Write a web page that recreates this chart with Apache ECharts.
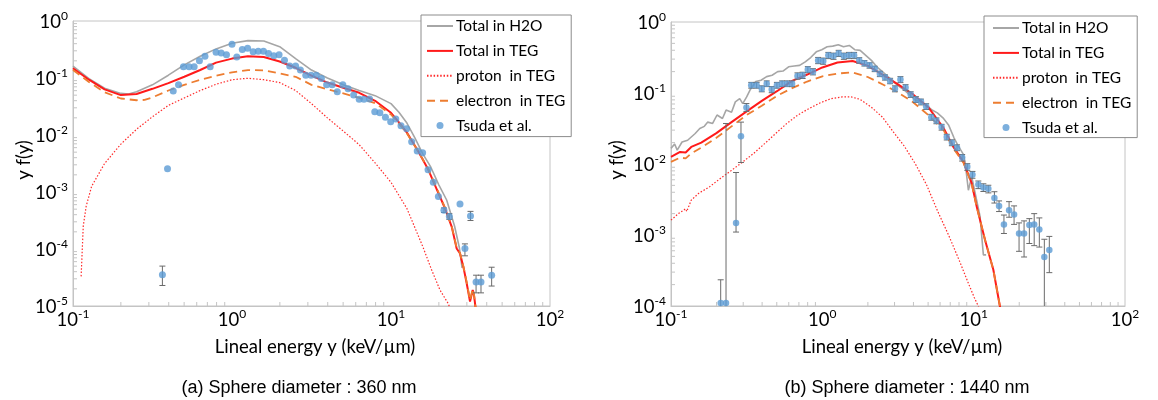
<!DOCTYPE html>
<html>
<head>
<meta charset="utf-8">
<script src="https://cdn.jsdelivr.net/npm/echarts@6/dist/echarts.min.js"></script>
<style>
  html, body { margin: 0; padding: 0; background: #fff; }
  #main { width: 1158px; height: 400px; }
</style>
</head>
<body>
<div id="main"></div>
<script>
// ---- (a) 360 nm ----
const a_h2o_x = [0.1,0.126,0.158,0.2,0.224,0.251,0.316,0.398,0.501,0.631,0.794,1,1.259,1.585,1.995,2.512,3.162,3.981,5.012,6.31,7.943,10,11.22,12.59,14.13,15.85,17.78,19.95,22.39,25.12,26.92,27.99];
const a_h2o_y = [0.162,0.0977,0.0661,0.0537,0.0525,0.0575,0.0759,0.112,0.170,0.240,0.324,0.407,0.452,0.447,0.355,0.219,0.138,0.100,0.0759,0.0603,0.049,0.0355,0.0251,0.0162,0.00891,0.00468,0.00275,0.00135,0.000724,0.000251,0.000105,0.0000468];

const a_teg_x = [0.1,0.126,0.158,0.2,0.251,0.316,0.398,0.501,0.631,0.794,1,1.259,1.585,1.995,2.512,3.162,3.981,5.012,6.31,7.943,10,11.22,12.59,14.86,17.18,19.86,21.88,24.1,25.88,27.16,28.51,29.92,31.41,32.66,33.27,34.28];
const a_teg_y = [0.148,0.0933,0.0631,0.0501,0.0525,0.0646,0.0813,0.105,0.138,0.186,0.219,0.240,0.234,0.195,0.151,0.110,0.0832,0.0676,0.055,0.0398,0.0245,0.0166,0.011,0.00513,0.00245,0.000955,0.000513,0.000245,0.000102,0.0000832,0.000049,0.0000251,0.000012,0.0000191,0.0000155,0.00000794];

const a_pro_x = [0.1125,0.116,0.121,0.131,0.158,0.2,0.251,0.316,0.398,0.501,0.631,0.794,1,1.259,1.585,1.995,2.512,3.162,3.981,5.012,6.31,7.943,10,12.59,15.85,18.03,20.32,22.91,23.99];
const a_pro_y = [0.0000331,0.000251,0.000562,0.00126,0.00316,0.00692,0.0126,0.0209,0.0331,0.0447,0.0603,0.0776,0.0933,0.0989,0.0933,0.0832,0.0603,0.0355,0.02,0.0117,0.00676,0.00324,0.00148,0.000513,0.00011,0.0000427,0.0000191,0.000011,0.00000794];

const a_ele_x = [0.1,0.126,0.158,0.2,0.251,0.282,0.316,0.398,0.501,0.631,0.794,1,1.259,1.585,1.995,2.512,3.162,3.981,5.012,6.31,7.943,10,11.22,12.59,14.86,17.18,19.86,21.88,24.1,25.88,27.16,28.51,29.92,31.41,32.66,33.27,34.28];
const a_ele_y = [0.138,0.0851,0.0562,0.0437,0.0407,0.0412,0.0457,0.0603,0.0759,0.0933,0.110,0.126,0.138,0.136,0.120,0.105,0.0759,0.0631,0.0537,0.0447,0.0363,0.0229,0.0158,0.0107,0.00513,0.00251,0.001,0.000525,0.000251,0.000105,0.0000851,0.0000501,0.0000263,0.0000126,0.00002,0.0000158,0.00000794];

const a_exp_x = [0.365,0.393,0.427,0.461,0.495,0.537,0.578,0.624,0.676,0.729,0.794,0.855,0.923,1.0,1.072,1.161,1.253,1.358,1.462,1.578,1.698,1.832,1.977,2.138,2.307,2.512,2.692,2.911,3.141,3.388,3.648,3.936,4.266,4.592,4.977,5.37,5.821,6.31,6.761,7.328,7.907,8.511,9.226,9.954,10.72,11.56,12.53,13.49,14.62,15.81,17.1,18.45,19.86,21.53,23.28,27.16,29.17,31.62,34.28,36.81,42.95];
const a_exp_y = [0.0000355,0.00257,0.0589,0.0759,0.158,0.158,0.158,0.2,0.24,0.158,0.282,0.275,0.257,0.389,0.234,0.316,0.331,0.288,0.295,0.295,0.269,0.245,0.257,0.204,0.162,0.162,0.138,0.112,0.112,0.112,0.0977,0.0759,0.0759,0.0575,0.0759,0.0646,0.0501,0.0422,0.0422,0.0427,0.0257,0.0245,0.0204,0.017,0.0191,0.0145,0.0129,0.00759,0.00525,0.0049,0.00245,0.00148,0.000832,0.000479,0.000372,0.000617,0.000102,0.00038,0.0000263,0.0000263,0.0000347];

const a_err_x  = [0.365,21.53,23.28,29.17,31.62,34.28,36.81,42.95];
const a_err_lo = [0.0000229,0.000437,0.000331,0.0000759,0.000316,0.000017,0.000017,0.0000224];
const a_err_hi = [0.0000501,0.000525,0.000417,0.000123,0.000457,0.0000347,0.0000347,0.0000479];

// ---- (b) 1440 nm ----
const b_h2o_x = [0.1,0.1057,0.1099,0.1183,0.1288,0.1361,0.1445,0.1549,0.166,0.175,0.1884,0.2014,0.2188,0.2312,0.2512,0.2661,0.2844,0.2979,0.3162,0.3327,0.3631,0.3936,0.4285,0.4656,0.507,0.5495,0.5984,0.6516,0.7079,0.7709,0.8375,0.912,0.9908,1.076,1.172,1.274,1.38,1.507,1.637,1.778,1.936,2.109,2.291,2.495,2.71,2.951,3.206,3.483,3.793,4.121,4.487,4.875,5.309,5.754,6.266,6.823,7.413,7.852,8.531,8.77,9.226,9.705,11.02,11.59,12.08];
const b_h2o_y = [0.0166,0.0191,0.0157,0.0204,0.0216,0.024,0.0269,0.0316,0.0339,0.0389,0.0372,0.049,0.0437,0.0575,0.0537,0.075,0.0832,0.0708,0.0881,0.11,0.145,0.151,0.17,0.178,0.2,0.204,0.234,0.24,0.245,0.275,0.316,0.38,0.407,0.447,0.457,0.479,0.447,0.468,0.407,0.398,0.339,0.288,0.234,0.2,0.17,0.145,0.124,0.11,0.0933,0.0794,0.075,0.0676,0.0575,0.0525,0.0447,0.0355,0.0234,0.0184,0.0138,0.0107,0.00427,0.00661,0.00182,0.000525,0.000525];

const b_teg_x = [0.1,0.1148,0.125,0.1361,0.1585,0.1995,0.2512,0.3162,0.3981,0.5012,0.631,0.794,1,1.259,1.585,1.995,2.512,3.162,3.981,5.012,6.31,7.345,8.551,9.705,10.47,11.89,13.49,14.93,15.49];
const b_teg_y = [0.0126,0.0148,0.0145,0.0174,0.02,0.0272,0.0389,0.055,0.0776,0.106,0.148,0.182,0.229,0.269,0.282,0.243,0.18,0.132,0.0955,0.0631,0.0324,0.0174,0.0107,0.00537,0.00251,0.000851,0.000324,0.0000977,0.0000631];

const b_pro_x = [0.1,0.112,0.125,0.127,0.136,0.152,0.18,0.213,0.251,0.298,0.352,0.417,0.492,0.582,0.689,0.815,0.964,1.14,1.349,1.549,1.778,2.109,2.495,2.951,3.483,4.121,4.875,5.768,6.823,8.072,9.268,10.09,10.72,11.22];
const b_pro_y = [0.00162,0.002,0.00234,0.00214,0.00309,0.00385,0.00479,0.00631,0.00813,0.0107,0.0141,0.0195,0.0269,0.0372,0.049,0.0603,0.0724,0.0832,0.0881,0.0881,0.0813,0.0631,0.0457,0.0282,0.0178,0.01,0.00513,0.00219,0.001,0.000427,0.000204,0.000132,0.0001,0.0000794];

const b_ele_x = [0.1,0.1148,0.125,0.1361,0.1585,0.1995,0.2512,0.3162,0.3981,0.5012,0.631,0.794,1,1.259,1.585,1.995,2.512,3.162,3.981,5.012,6.31,7.345,8.551,9.705,10.47,11.89,13.49,14.93,15.49];
const b_ele_y = [0.0107,0.0123,0.012,0.0141,0.017,0.0234,0.0339,0.049,0.0661,0.0912,0.117,0.145,0.172,0.188,0.195,0.168,0.132,0.102,0.0741,0.049,0.0302,0.0166,0.0105,0.00525,0.00251,0.000851,0.000324,0.0000977,0.0000631];

const b_exp_x = [0.213,0.231,0.269,0.29,0.315,0.339,0.368,0.398,0.429,0.463,0.501,0.542,0.586,0.631,0.685,0.741,0.802,0.867,0.938,1.014,1.096,1.186,1.282,1.387,1.5,1.622,1.754,1.897,2.051,2.218,2.399,2.594,2.805,3.02,3.281,3.548,3.837,4.15,4.487,4.853,5.248,5.675,6.138,6.637,7.178,7.762,8.395,9.078,9.817,10.74,11.59,12.5,13.71,14.72,15.85,17.14,18.49,19.95,21.53,23.33,25.12,27.16,29.31,31.62];
const b_exp_y = [0.00011,0.00011,0.00148,0.0245,0.0624,0.129,0.129,0.115,0.135,0.112,0.129,0.135,0.135,0.135,0.174,0.178,0.214,0.2,0.288,0.282,0.339,0.331,0.363,0.331,0.339,0.339,0.288,0.263,0.245,0.219,0.186,0.166,0.148,0.115,0.155,0.12,0.0955,0.0813,0.075,0.0646,0.0457,0.0407,0.0331,0.024,0.02,0.017,0.0123,0.00912,0.00708,0.00513,0.00468,0.00447,0.00331,0.00257,0.00141,0.00224,0.00195,0.00105,0.00105,0.00138,0.00141,0.0012,0.00049,0.000617];
const b_exp_lo = [0.00009,0.00009,0.0011,0.0105,0.055,0.117,0.117,0.104,0.123,0.101,0.117,0.123,0.123,0.123,0.156,0.16,0.193,0.18,0.259,0.254,0.305,0.298,0.327,0.298,0.305,0.305,0.262,0.24,0.224,0.2,0.17,0.152,0.135,0.104,0.14,0.109,0.0866,0.0737,0.068,0.0586,0.0414,0.0369,0.03,0.0218,0.0181,0.0154,0.011,0.00815,0.0063,0.0045,0.0041,0.00392,0.00282,0.00214,0.00105,0.00178,0.00141,0.000589,0.00049,0.000759,0.000708,0.000676,0.00009,0.000295];
const b_exp_hi = [0.000234,0.0372,0.00759,0.0389,0.071,0.141,0.141,0.126,0.148,0.123,0.141,0.148,0.148,0.148,0.192,0.196,0.235,0.22,0.317,0.31,0.373,0.364,0.399,0.364,0.373,0.373,0.314,0.286,0.266,0.238,0.202,0.18,0.161,0.126,0.17,0.131,0.104,0.0889,0.082,0.0706,0.05,0.0445,0.0362,0.0262,0.0219,0.0186,0.0136,0.0101,0.00786,0.00576,0.00526,0.00502,0.00407,0.00302,0.00191,0.00295,0.00257,0.00148,0.00158,0.0017,0.002,0.00174,0.000871,0.000955];

const names = ['Total in H2O', 'Total in TEG', 'proton  in TEG', 'electron  in TEG', 'Tsuda et al.'];

// small helpers ----------------------------------
const zip = (xs, ys) => xs.map((x, i) => [x, ys[i]]);
const zip3 = (xs, lo, hi) => xs.map((x, i) => [x, lo[i], hi[i]]);
// minor tick values 2..9 x 10^e (axis decoration only)
const minorTicks = (e0, e1) => {
  const t = [];
  for (let e = e0; e < e1; e++) for (let k = 2; k <= 9; k++) t.push(+(k * Math.pow(10, e)).toPrecision(3));
  return t;
};

const axisGray = '#c4c4c4';
const FONT = 'Lato';

function powLabel(v) {
  const e = Math.round(Math.log10(v));
  return '{b|10}{s|' + e + '}';
}
const labelRich = {
  b: { fontSize: 18.5, fontFamily: FONT, color: '#000', lineHeight: 22, verticalAlign: 'bottom' },
  s: { fontSize: 12, fontFamily: FONT, color: '#000', lineHeight: 13, verticalAlign: 'top' }
};

function xAxisCfg(gi) {
  return {
    type: 'log', logBase: 10, gridIndex: gi, min: 0.1, max: 100,
    axisLine: { lineStyle: { color: axisGray, width: 1 } },
    axisTick: { show: false },
    splitLine: { show: false },
    axisLabel: { formatter: powLabel, rich: labelRich, margin: 2, showMinLabel: true, showMaxLabel: true, hideOverlap: false }
  };
}
function yAxisCfg(gi, min) {
  return {
    type: 'log', logBase: 10, gridIndex: gi, min: min, max: 1,
    axisLine: { lineStyle: { color: axisGray, width: 1 } },
    axisTick: { show: false },
    splitLine: { show: false },
    axisLabel: { formatter: powLabel, rich: labelRich, margin: 5, showMinLabel: true, showMaxLabel: true, hideOverlap: false }
  };
}

function tickSeries(gi, vals, dir) {
  return {
    type: 'custom', xAxisIndex: gi, yAxisIndex: gi, silent: true, z: 1,
    data: vals.map(v => dir === 'x' ? [v, 1] : [1, v]),
    renderItem: function (params, api) {
      const cs = params.coordSys;
      if (dir === 'x') {
        const x = api.coord([api.value(0), 1])[0];
        const b = cs.y + cs.height;
        return { type: 'line', shape: { x1: x, y1: b, x2: x, y2: b - 4 }, style: { stroke: axisGray, lineWidth: 1 } };
      }
      const y = api.coord([1, api.value(1)])[1];
      return { type: 'line', shape: { x1: cs.x, y1: y, x2: cs.x + 4, y2: y }, style: { stroke: axisGray, lineWidth: 1 } };
    }
  };
}

function errSeries(gi, rows) {
  return {
    type: 'custom', xAxisIndex: gi, yAxisIndex: gi, silent: true, z: 3,
    data: rows,
    encode: { x: 0, y: [1, 2] },
    renderItem: function (params, api) {
      const cs = params.coordSys;
      const top = cs.y, bot = cs.y + cs.height;
      const a = api.coord([api.value(0), api.value(2)]);
      const b = api.coord([api.value(0), api.value(1)]);
      const st = { stroke: '#6a6a6a', lineWidth: 1 };
      const kids = [{ type: 'line', shape: { x1: a[0], y1: Math.max(a[1], top), x2: a[0], y2: Math.min(b[1], bot) }, style: st }];
      if (a[1] >= top) kids.push({ type: 'line', shape: { x1: a[0] - 3, y1: a[1], x2: a[0] + 3, y2: a[1] }, style: st });
      if (b[1] <= bot) kids.push({ type: 'line', shape: { x1: b[0] - 3, y1: b[1], x2: b[0] + 3, y2: b[1] }, style: st });
      return { type: 'group', children: kids };
    }
  };
}

function lineSeries(gi, name, xs, ys, style, z) {
  return {
    type: 'line', name: name, xAxisIndex: gi, yAxisIndex: gi,
    data: zip(xs, ys), symbol: 'none', smooth: false, z: z,
    lineStyle: style, itemStyle: { color: style.color }
  };
}

function panelSeries(gi, d) {
  return [
    lineSeries(gi, names[0], d.h2o_x, d.h2o_y, { color: '#a6a6a6', width: 1.6 }, 2),
    lineSeries(gi, names[1], d.teg_x, d.teg_y, { color: '#ff1a1a', width: 2 }, 2),
    lineSeries(gi, names[2], d.pro_x, d.pro_y, { color: '#ff2a2a', width: 1.2, type: [1.5, 1.8] }, 2),
    lineSeries(gi, names[3], d.ele_x, d.ele_y, { color: '#ed7d31', width: 1.8, type: [8, 5] }, 2),
    errSeries(gi, d.err),
    {
      type: 'scatter', name: names[4], xAxisIndex: gi, yAxisIndex: gi, z: 4,
      data: zip(d.exp_x, d.exp_y), symbol: 'circle', symbolSize: d.sym,
      itemStyle: { color: '#5b9bd5' }
    }
  ];
}

function legendCfg(left, top, pad) {
  return {
    orient: 'vertical', left: left, top: top, padding: pad,
    itemWidth: 26, itemHeight: 7, itemGap: 8.9,
    backgroundColor: '#fff', borderColor: '#8c8c8c', borderWidth: 1, borderRadius: 0,
    selectedMode: false,
    textStyle: { fontFamily: FONT, fontSize: 15.5, color: '#000', padding: [0, 0, 0, -2] },
    data: names.map((n, i) => i < 4 ? { name: n, itemStyle: { opacity: 0 } } : { name: n })
  };
}

function txt(x, y, s, size, family, rot) {
  return {
    type: 'text', x: x, y: y, rotation: rot || 0, z: 10,
    style: { text: s, fill: '#000', fontSize: size, fontFamily: family,
      align: 'center', verticalAlign: 'middle', textAlign: 'center', textVerticalAlign: 'middle' }
  };
}

const chart = echarts.init(document.getElementById('main'));
chart.setOption({
  animation: false,
  backgroundColor: '#fff',
  grid: [
    { left: 73, top: 21, width: 477, height: 285, show: true, borderColor: axisGray, borderWidth: 1, backgroundColor: 'transparent', outerBoundsMode: 'none' },
    { left: 671, top: 22, width: 454, height: 284, show: true, borderColor: axisGray, borderWidth: 1, backgroundColor: 'transparent', outerBoundsMode: 'none' }
  ],
  xAxis: [xAxisCfg(0), xAxisCfg(1)],
  yAxis: [yAxisCfg(0, 0.00001), yAxisCfg(1, 0.0001)],
  legend: [legendCfg(421, 15, [3, 6, 3, 5]), legendCfg(984, 16, [4, 6, 2, 8])],
  graphic: [
    txt(24, 160, 'y f(y)', 18.5, FONT, Math.PI / 2),
    txt(617, 160, 'y f(y)', 18.5, FONT, Math.PI / 2),
    txt(315, 347, 'Lineal energy y (keV/\u00b5m)', 18.5, FONT),
    txt(902, 347, 'Lineal energy y (keV/\u00b5m)', 18.5, FONT),
    txt(299, 388, '(a) Sphere diameter : 360 nm', 18, 'Liberation Sans'),
    txt(907, 388, '(b) Sphere diameter : 1440 nm', 18, 'Liberation Sans')
  ],
  series: [
    tickSeries(0, minorTicks(-1, 2), 'x'),
    tickSeries(0, minorTicks(-5, 0), 'y'),
    tickSeries(1, minorTicks(-1, 2), 'x'),
    tickSeries(1, minorTicks(-4, 0), 'y')
  ].concat(
    panelSeries(0, { h2o_x: a_h2o_x, h2o_y: a_h2o_y, teg_x: a_teg_x, teg_y: a_teg_y, pro_x: a_pro_x, pro_y: a_pro_y,
      ele_x: a_ele_x, ele_y: a_ele_y, exp_x: a_exp_x, exp_y: a_exp_y, err: zip3(a_err_x, a_err_lo, a_err_hi), sym: 7 }),
    panelSeries(1, { h2o_x: b_h2o_x, h2o_y: b_h2o_y, teg_x: b_teg_x, teg_y: b_teg_y, pro_x: b_pro_x, pro_y: b_pro_y,
      ele_x: b_ele_x, ele_y: b_ele_y, exp_x: b_exp_x, exp_y: b_exp_y, err: zip3(b_exp_x, b_exp_lo, b_exp_hi), sym: 6.5 })
  )
});
</script>
</body>
</html>
